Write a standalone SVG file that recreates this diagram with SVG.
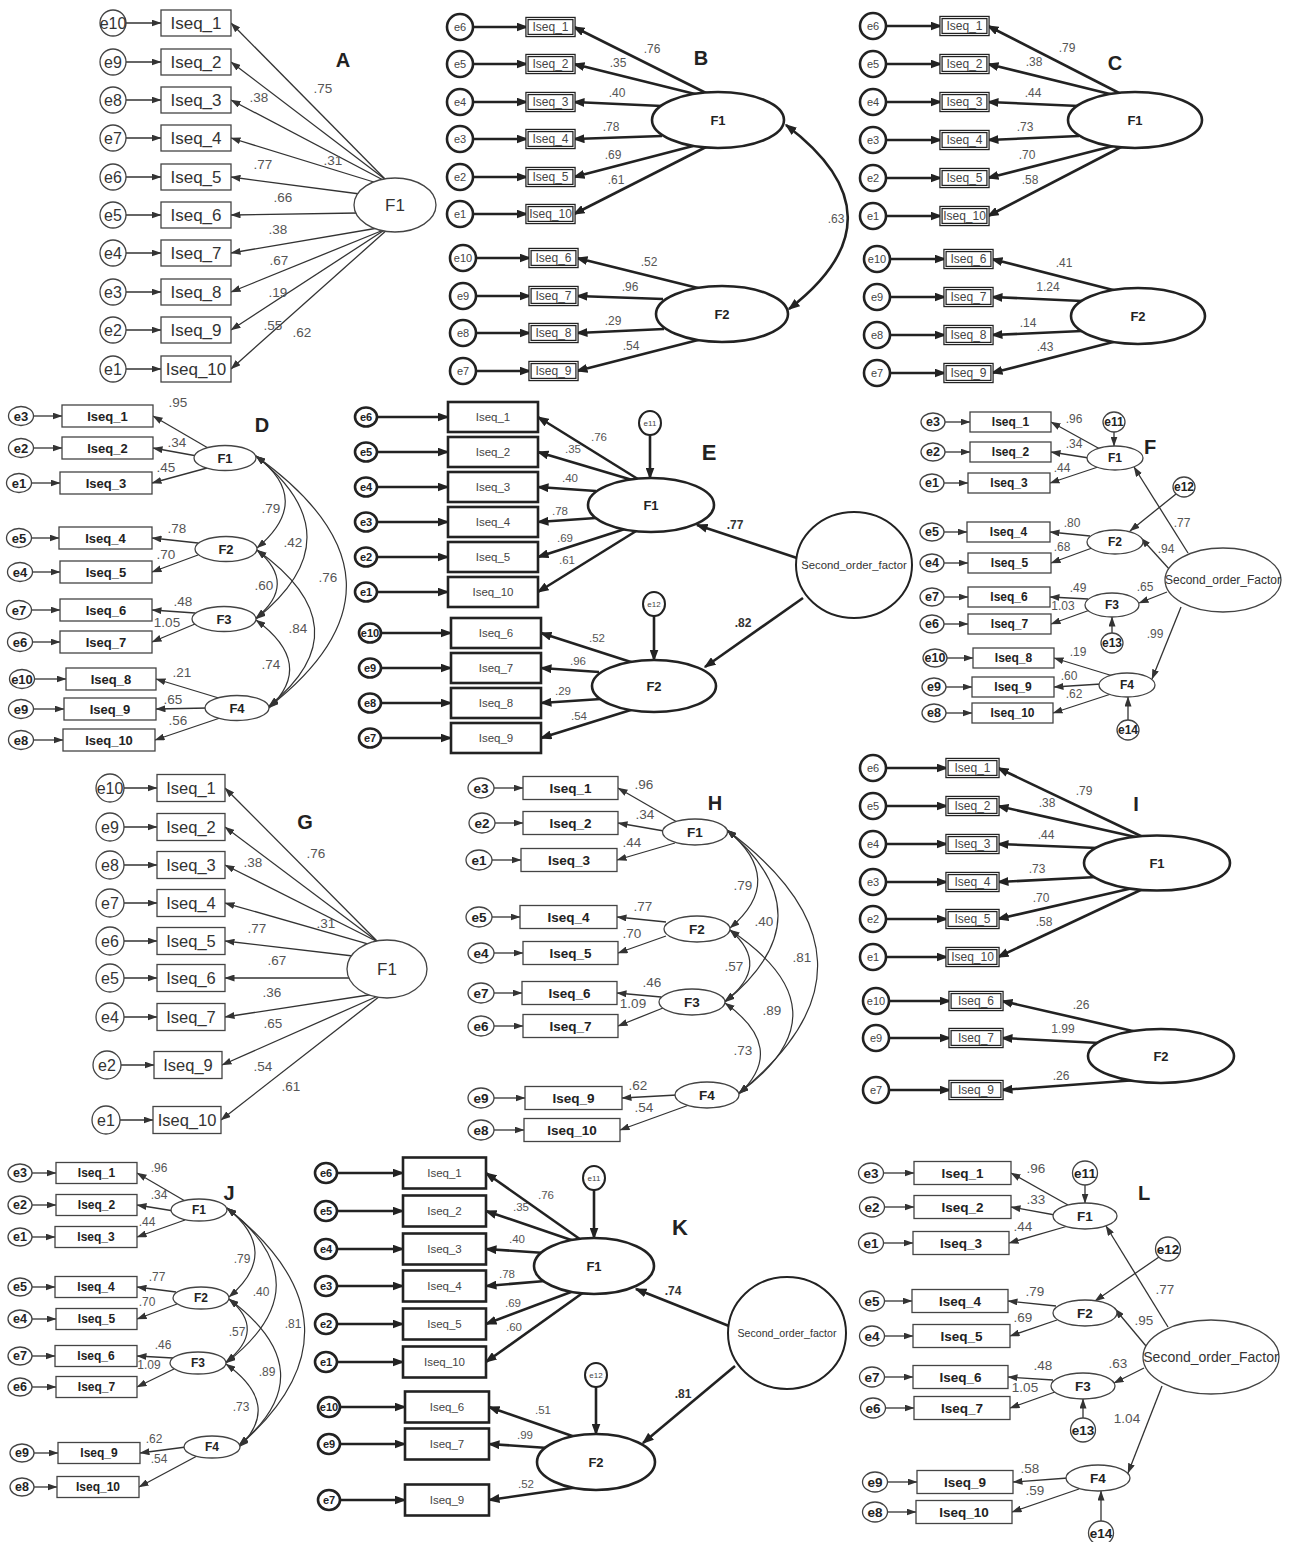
<svg xmlns="http://www.w3.org/2000/svg" width="1290" height="1542" viewBox="0 0 1290 1542">
<defs>
<marker id="m1" viewBox="0 0 10 7" refX="9.5" refY="3.5" markerWidth="10" markerHeight="7" markerUnits="userSpaceOnUse" orient="auto"><path d="M0,0L10,3.5L0,7z" fill="#333"/></marker>
<marker id="m1d" viewBox="0 0 10 7" refX="9.5" refY="3.5" markerWidth="10" markerHeight="7" markerUnits="userSpaceOnUse" orient="auto-start-reverse"><path d="M0,0L10,3.5L0,7z" fill="#333"/></marker>
<marker id="m2" viewBox="0 0 12 9" refX="10.5" refY="4.5" markerWidth="12" markerHeight="9" markerUnits="userSpaceOnUse" orient="auto"><path d="M0,0L12,4.5L0,9z" fill="#222"/></marker>
<marker id="m2d" viewBox="0 0 12 9" refX="10.5" refY="4.5" markerWidth="12" markerHeight="9" markerUnits="userSpaceOnUse" orient="auto-start-reverse"><path d="M0,0L12,4.5L0,9z" fill="#222"/></marker>
</defs>
<style>
.t{font-family:"Liberation Sans",Arial,Helvetica,sans-serif;text-anchor:middle;dominant-baseline:central}
.s17{font-size:17px;fill:#333}.s165{font-size:16.5px;fill:#333}.s16{font-size:16px;fill:#333}
.g135{font-size:13.5px;fill:#555}.g12{font-size:12px;fill:#555}.g115{font-size:11.5px;fill:#555}
.n12{font-size:12px;fill:#444}.n11{font-size:11px;fill:#444}.n115{font-size:11.5px;fill:#444}.n8{font-size:8px;fill:#444}
.so1{font-size:11.3px;fill:#333}.so2{font-size:10.6px;fill:#333}.so3{font-size:12px;fill:#333}.so4{font-size:14px;fill:#333}
.b11{font-size:11px;font-weight:bold;fill:#222}.b12{font-size:12px;font-weight:bold;fill:#222}.b125{font-size:12.5px;font-weight:bold;fill:#222}
.b13{font-size:13px;font-weight:bold;fill:#222}.b135{font-size:13.5px;font-weight:bold;fill:#222}.b14{font-size:14px;font-weight:bold;fill:#222}
.bv{font-size:12px;font-weight:bold;fill:#333}
.L20{font-size:20px;font-weight:bold;fill:#222}.L22{font-size:22px;font-weight:bold;fill:#222}
.k1{fill:#fff;stroke:#444;stroke-width:1.3}
.k2{fill:#fff;stroke:#222;stroke-width:2.6}
.kd{fill:#fff;stroke:#222;stroke-width:3.4}
.kw{fill:none;stroke:#fff;stroke-width:0.9}
.c1{fill:none;stroke:#333;stroke-width:1.3;marker-end:url(#m1)}
.c2{fill:none;stroke:#222;stroke-width:2.6;marker-end:url(#m2)}
.d1{fill:none;stroke:#333;stroke-width:1.2;marker-start:url(#m1d);marker-end:url(#m1d)}
.d2{fill:none;stroke:#222;stroke-width:2.6;marker-start:url(#m2d);marker-end:url(#m2d)}
</style>
<rect width="1290" height="1542" fill="#fff"/>

<g id="connectors">
<!-- Panel A -->
<g id="A-conn" class="c1">
<line x1="126" y1="23" x2="161" y2="23"/><line x1="126" y1="62" x2="161" y2="62"/><line x1="126" y1="100" x2="161" y2="100"/><line x1="126" y1="138" x2="161" y2="138"/><line x1="126" y1="177" x2="161" y2="177"/><line x1="126" y1="215" x2="161" y2="215"/><line x1="126" y1="253" x2="161" y2="253"/><line x1="126" y1="292" x2="161" y2="292"/><line x1="126" y1="330" x2="161" y2="330"/><line x1="126" y1="369" x2="161" y2="369"/>
<line x1="386" y1="180" x2="231" y2="23"/><line x1="386" y1="180" x2="231" y2="62"/><line x1="385" y1="181" x2="231" y2="100"/><line x1="377" y1="183" x2="231" y2="138"/><line x1="360" y1="194" x2="231" y2="177"/><line x1="358" y1="213" x2="231" y2="215"/><line x1="378" y1="228" x2="231" y2="253"/><line x1="386" y1="229" x2="231" y2="292"/><line x1="386" y1="229" x2="231" y2="330"/><line x1="388" y1="229" x2="231" y2="369"/>
</g>
<!-- Panel G -->
<g id="G-conn" class="c1">
<line x1="124" y1="788" x2="157" y2="788"/><line x1="124" y1="827" x2="157" y2="827"/><line x1="124" y1="865" x2="157" y2="865"/><line x1="124" y1="903" x2="157" y2="903"/><line x1="124" y1="941" x2="157" y2="941"/><line x1="124" y1="978" x2="157" y2="978"/><line x1="124" y1="1017" x2="157" y2="1017"/><line x1="121" y1="1065" x2="154" y2="1065"/><line x1="120" y1="1120" x2="153" y2="1120"/>
<line x1="378" y1="942" x2="225" y2="788"/><line x1="378" y1="942" x2="225" y2="827"/><line x1="378" y1="942" x2="225" y2="865"/><line x1="372" y1="945" x2="225" y2="903"/><line x1="353" y1="956" x2="225" y2="941"/><line x1="351" y1="978" x2="225" y2="978"/><line x1="375" y1="994" x2="225" y2="1017"/><line x1="378" y1="996" x2="222" y2="1065"/><line x1="380" y1="996" x2="221" y2="1120"/>
</g>
<!-- Panel B -->
<g id="B-conn" class="c2">
<line x1="473" y1="27" x2="527" y2="27"/><line x1="473" y1="64" x2="527" y2="64"/><line x1="473" y1="102" x2="527" y2="102"/><line x1="473" y1="139" x2="527" y2="139"/><line x1="473" y1="177" x2="527" y2="177"/><line x1="473" y1="214" x2="527" y2="214"/>
<line x1="476" y1="258" x2="530" y2="258"/><line x1="476" y1="296" x2="530" y2="296"/><line x1="476" y1="333" x2="530" y2="333"/><line x1="476" y1="371" x2="530" y2="371"/>
<line x1="708" y1="94" x2="574" y2="27"/><line x1="703" y1="96" x2="574" y2="64"/><line x1="662" y1="106" x2="574" y2="102"/><line x1="662" y1="136" x2="574" y2="139"/><line x1="693" y1="146" x2="574" y2="177"/><line x1="708" y1="146" x2="574" y2="214"/>
<line x1="702" y1="289" x2="577" y2="258"/><line x1="663" y1="299" x2="577" y2="296"/><line x1="664" y1="329" x2="577" y2="333"/><line x1="702" y1="339" x2="577" y2="371"/>
<path class="d2" d="M786,125 Q908,217 789,309"/>
</g>
<!-- Panel C -->
<g id="C-conn" class="c2">
<line x1="886" y1="26" x2="941" y2="26"/><line x1="886" y1="64" x2="941" y2="64"/><line x1="886" y1="102" x2="941" y2="102"/><line x1="886" y1="140" x2="941" y2="140"/><line x1="886" y1="178" x2="941" y2="178"/><line x1="886" y1="216" x2="941" y2="216"/>
<line x1="890" y1="259" x2="945" y2="259"/><line x1="890" y1="297" x2="945" y2="297"/><line x1="890" y1="335" x2="945" y2="335"/><line x1="890" y1="373" x2="945" y2="373"/>
<line x1="1123" y1="95" x2="988" y2="26"/><line x1="1118" y1="96" x2="988" y2="64"/><line x1="1079" y1="106" x2="988" y2="102"/><line x1="1079" y1="136" x2="988" y2="140"/><line x1="1113" y1="146" x2="988" y2="178"/><line x1="1123" y1="146" x2="988" y2="216"/>
<line x1="1117" y1="291" x2="992" y2="259"/><line x1="1082" y1="301" x2="992" y2="297"/><line x1="1082" y1="331" x2="992" y2="335"/><line x1="1117" y1="341" x2="992" y2="373"/>
</g>
<!-- Panel I -->
<g id="I-conn" class="c2">
<line x1="886" y1="768" x2="947" y2="768"/><line x1="886" y1="806" x2="947" y2="806"/><line x1="886" y1="844" x2="947" y2="844"/><line x1="886" y1="882" x2="947" y2="882"/><line x1="886" y1="919" x2="947" y2="919"/><line x1="886" y1="957" x2="947" y2="957"/>
<line x1="889" y1="1001" x2="950" y2="1001"/><line x1="889" y1="1038" x2="950" y2="1038"/><line x1="889" y1="1090" x2="950" y2="1090"/>
<line x1="1145" y1="838" x2="998" y2="768"/><line x1="1140" y1="838" x2="998" y2="806"/><line x1="1097" y1="848" x2="998" y2="844"/><line x1="1097" y1="877" x2="998" y2="882"/><line x1="1133" y1="888" x2="998" y2="919"/><line x1="1145" y1="888" x2="998" y2="957"/>
<line x1="1137" y1="1032" x2="1002" y2="1001"/><line x1="1100" y1="1043" x2="1002" y2="1038"/><line x1="1137" y1="1080" x2="1002" y2="1090"/>
</g>
<!-- Panel D -->
<g id="D-conn" class="c1">
<line x1="33" y1="416" x2="62" y2="416"/><line x1="33" y1="448" x2="62" y2="448"/><line x1="31" y1="483" x2="60" y2="483"/><line x1="31" y1="538" x2="59" y2="538"/><line x1="32" y1="572" x2="60" y2="572"/><line x1="31" y1="610" x2="60" y2="610"/><line x1="32" y1="642" x2="60" y2="642"/><line x1="34" y1="679" x2="66" y2="679"/><line x1="33" y1="709" x2="64" y2="709"/><line x1="33" y1="740" x2="63" y2="740"/>
<line x1="208" y1="448" x2="153" y2="416"/><line x1="197" y1="456" x2="153" y2="448"/><line x1="207" y1="468" x2="152" y2="483"/><line x1="198" y1="543" x2="152" y2="538"/><line x1="198" y1="555" x2="152" y2="572"/><line x1="195" y1="613" x2="152" y2="610"/><line x1="195" y1="624" x2="152" y2="642"/><line x1="222" y1="699" x2="156" y2="679"/><line x1="208" y1="708" x2="156" y2="709"/><line x1="220" y1="718" x2="155" y2="740"/>
<path class="d1" d="M256,456 Q314,500 257,548"/><path class="d1" d="M256,456 Q358,537 256,619"/><path class="d1" d="M256,456 Q430,581 269,707"/><path class="d1" d="M257,550 Q298,584 256,618"/><path class="d1" d="M257,550 Q366,628 269,706"/><path class="d1" d="M256,620 Q316,664 269,708"/>
</g>
<!-- Panel H -->
<g id="H-conn" class="c1">
<line x1="494" y1="788" x2="523" y2="788"/><line x1="495" y1="823" x2="523" y2="823"/><line x1="492" y1="860" x2="521" y2="860"/><line x1="492" y1="917" x2="520" y2="917"/><line x1="494" y1="953" x2="523" y2="953"/><line x1="494" y1="993" x2="522" y2="993"/><line x1="494" y1="1026" x2="523" y2="1026"/><line x1="494" y1="1098" x2="525" y2="1098"/><line x1="494" y1="1130" x2="524" y2="1130"/>
<line x1="677" y1="822" x2="618" y2="788"/><line x1="664" y1="831" x2="618" y2="823"/><line x1="675" y1="843" x2="617" y2="860"/><line x1="666" y1="922" x2="617" y2="917"/><line x1="666" y1="936" x2="618" y2="953"/><line x1="661" y1="997" x2="617" y2="993"/><line x1="663" y1="1008" x2="618" y2="1026"/><line x1="677" y1="1095" x2="622" y2="1098"/><line x1="689" y1="1105" x2="620" y2="1130"/>
<path class="d1" d="M727,830 Q787,880 730,928"/><path class="d1" d="M727,830 Q830,916 725,1002"/><path class="d1" d="M727,830 Q902,961 739,1093"/><path class="d1" d="M730,930 Q772,966 725,1001"/><path class="d1" d="M730,930 Q851,1011 739,1093"/><path class="d1" d="M725,1003 Q788,1048 739,1094"/>
</g>
<!-- Panel J -->
<g id="J-conn" class="c1">
<line x1="32" y1="1173" x2="56" y2="1173"/><line x1="32" y1="1205" x2="56" y2="1205"/><line x1="32" y1="1237" x2="55" y2="1237"/><line x1="32" y1="1287" x2="55" y2="1287"/><line x1="32" y1="1319" x2="56" y2="1319"/><line x1="32" y1="1356" x2="55" y2="1356"/><line x1="32" y1="1387" x2="56" y2="1387"/><line x1="34" y1="1453" x2="58" y2="1453"/><line x1="34" y1="1487" x2="57" y2="1487"/>
<line x1="185" y1="1201" x2="137" y2="1173"/><line x1="174" y1="1211" x2="137" y2="1205"/><line x1="185" y1="1220" x2="137" y2="1237"/><line x1="176" y1="1292" x2="137" y2="1287"/><line x1="177" y1="1304" x2="137" y2="1319"/><line x1="173" y1="1358" x2="137" y2="1356"/><line x1="174" y1="1369" x2="137" y2="1387"/><line x1="186" y1="1447" x2="140" y2="1453"/><line x1="197" y1="1456" x2="139" y2="1487"/>
<path class="d1" d="M227,1208 Q282,1252 229,1297"/><path class="d1" d="M227,1208 Q326,1285 226,1363"/><path class="d1" d="M227,1208 Q376,1326 239,1446"/><path class="d1" d="M229,1299 Q267,1330 226,1362"/><path class="d1" d="M229,1299 Q327,1372 239,1445"/><path class="d1" d="M226,1364 Q283,1405 239,1447"/>
</g>
<!-- Panel E -->
<g id="E-conn" class="c2">
<line x1="377" y1="417" x2="448" y2="417"/><line x1="377" y1="452" x2="448" y2="452"/><line x1="377" y1="487" x2="448" y2="487"/><line x1="377" y1="522" x2="448" y2="522"/><line x1="377" y1="557" x2="448" y2="557"/><line x1="377" y1="592" x2="448" y2="592"/>
<line x1="381" y1="633" x2="451" y2="633"/><line x1="381" y1="668" x2="451" y2="668"/><line x1="381" y1="703" x2="451" y2="703"/><line x1="381" y1="738" x2="451" y2="738"/>
<line x1="641" y1="481" x2="538" y2="417"/><line x1="639" y1="482" x2="538" y2="452"/><line x1="596" y1="491" x2="538" y2="487"/><line x1="596" y1="518" x2="538" y2="522"/><line x1="628" y1="528" x2="538" y2="557"/><line x1="641" y1="528" x2="538" y2="592"/>
<line x1="634" y1="663" x2="541" y2="633"/><line x1="599" y1="672" x2="541" y2="668"/><line x1="601" y1="699" x2="541" y2="703"/><line x1="634" y1="709" x2="541" y2="738"/>
<line x1="650" y1="435" x2="650" y2="478"/><line x1="654" y1="616" x2="654" y2="660"/>
<line x1="797" y1="558" x2="697" y2="525"/><line x1="803" y1="598" x2="705" y2="667"/>
</g>
<!-- Panel K -->
<g id="K-conn" class="c2">
<line x1="337" y1="1173" x2="403" y2="1173"/><line x1="337" y1="1211" x2="403" y2="1211"/><line x1="337" y1="1249" x2="403" y2="1249"/><line x1="337" y1="1286" x2="403" y2="1286"/><line x1="337" y1="1324" x2="403" y2="1324"/><line x1="337" y1="1362" x2="403" y2="1362"/>
<line x1="340" y1="1407" x2="405" y2="1407"/><line x1="340" y1="1444" x2="405" y2="1444"/><line x1="340" y1="1500" x2="405" y2="1500"/>
<line x1="584" y1="1242" x2="486" y2="1173"/><line x1="580" y1="1243" x2="486" y2="1211"/><line x1="545" y1="1253" x2="486" y2="1249"/><line x1="545" y1="1281" x2="486" y2="1286"/><line x1="571" y1="1292" x2="486" y2="1324"/><line x1="584" y1="1292" x2="486" y2="1362"/>
<line x1="578" y1="1438" x2="489" y2="1407"/><line x1="548" y1="1448" x2="489" y2="1444"/><line x1="579" y1="1487" x2="489" y2="1500"/>
<line x1="594" y1="1190" x2="594" y2="1238"/><line x1="596" y1="1387" x2="596" y2="1434"/>
<line x1="729" y1="1326" x2="636" y2="1289"/><line x1="735" y1="1366" x2="643" y2="1443"/>
</g>
<!-- Panel F -->
<g id="F-conn" class="c1">
<line x1="945" y1="422" x2="970" y2="422"/><line x1="945" y1="452" x2="970" y2="452"/><line x1="944" y1="483" x2="968" y2="483"/><line x1="944" y1="532" x2="967" y2="532"/><line x1="944" y1="563" x2="968" y2="563"/><line x1="944" y1="597" x2="968" y2="597"/><line x1="944" y1="624" x2="968" y2="624"/><line x1="947" y1="658" x2="973" y2="658"/><line x1="946" y1="687" x2="972" y2="687"/><line x1="946" y1="713" x2="972" y2="713"/>
<line x1="1100" y1="449" x2="1051" y2="422"/><line x1="1089" y1="458" x2="1051" y2="452"/><line x1="1098" y1="467" x2="1050" y2="483"/><line x1="1090" y1="536" x2="1050" y2="532"/><line x1="1092" y1="548" x2="1051" y2="563"/><line x1="1088" y1="599" x2="1050" y2="597"/><line x1="1090" y1="610" x2="1051" y2="624"/><line x1="1113" y1="676" x2="1054" y2="658"/><line x1="1101" y1="684" x2="1054" y2="687"/><line x1="1111" y1="694" x2="1053" y2="713"/>
<line x1="1114" y1="432" x2="1114" y2="446"/><line x1="1176" y1="494" x2="1130" y2="531"/><line x1="1112" y1="633" x2="1112" y2="617"/><line x1="1128" y1="720" x2="1128" y2="697"/>
<line x1="1188" y1="553" x2="1134" y2="467"/><line x1="1170" y1="570" x2="1141" y2="538"/><line x1="1167" y1="592" x2="1139" y2="603"/><line x1="1181" y1="607" x2="1152" y2="679"/>
</g>
<!-- Panel L -->
<g id="L-conn" class="c1">
<line x1="883" y1="1173" x2="914" y2="1173"/><line x1="884" y1="1207" x2="914" y2="1207"/><line x1="883" y1="1243" x2="913" y2="1243"/><line x1="884" y1="1301" x2="912" y2="1301"/><line x1="884" y1="1336" x2="913" y2="1336"/><line x1="884" y1="1377" x2="913" y2="1377"/><line x1="885" y1="1408" x2="914" y2="1408"/><line x1="887" y1="1482" x2="917" y2="1482"/><line x1="887" y1="1512" x2="916" y2="1512"/>
<line x1="1068" y1="1205" x2="1011" y2="1173"/><line x1="1055" y1="1215" x2="1011" y2="1207"/><line x1="1068" y1="1226" x2="1009" y2="1243"/><line x1="1056" y1="1306" x2="1008" y2="1301"/><line x1="1057" y1="1320" x2="1010" y2="1336"/><line x1="1053" y1="1380" x2="1008" y2="1377"/><line x1="1055" y1="1392" x2="1010" y2="1408"/><line x1="1068" y1="1478" x2="1013" y2="1482"/><line x1="1079" y1="1489" x2="1012" y2="1512"/>
<line x1="1085" y1="1185" x2="1085" y2="1203"/><line x1="1159" y1="1257" x2="1095" y2="1301"/><line x1="1083" y1="1418" x2="1083" y2="1399"/><line x1="1101" y1="1521" x2="1101" y2="1491"/>
<line x1="1168" y1="1327" x2="1106" y2="1226"/><line x1="1146" y1="1346" x2="1115" y2="1309"/><line x1="1144" y1="1368" x2="1114" y2="1383"/><line x1="1162" y1="1386" x2="1128" y2="1473"/>
</g>
</g>

<g id="nodes">
<!-- Panel A -->
<g id="A-nodes">
<g id="A-e10"><circle class="k1" cx="113" cy="23" r="13"/><text class="t s16" x="113" y="23">e10</text></g>
<g id="A-e9"><circle class="k1" cx="113" cy="62" r="13"/><text class="t s16" x="113" y="62">e9</text></g>
<g id="A-e8"><circle class="k1" cx="113" cy="100" r="13"/><text class="t s16" x="113" y="100">e8</text></g>
<g id="A-e7"><circle class="k1" cx="113" cy="138" r="13"/><text class="t s16" x="113" y="138">e7</text></g>
<g id="A-e6"><circle class="k1" cx="113" cy="177" r="13"/><text class="t s16" x="113" y="177">e6</text></g>
<g id="A-e5"><circle class="k1" cx="113" cy="215" r="13"/><text class="t s16" x="113" y="215">e5</text></g>
<g id="A-e4"><circle class="k1" cx="113" cy="253" r="13"/><text class="t s16" x="113" y="253">e4</text></g>
<g id="A-e3"><circle class="k1" cx="113" cy="292" r="13"/><text class="t s16" x="113" y="292">e3</text></g>
<g id="A-e2"><circle class="k1" cx="113" cy="330" r="13"/><text class="t s16" x="113" y="330">e2</text></g>
<g id="A-e1"><circle class="k1" cx="113" cy="369" r="13"/><text class="t s16" x="113" y="369">e1</text></g>
<g id="A-Iseq_1"><rect class="k1" x="161" y="10" width="70" height="26"/><text class="t s17" x="196" y="23">Iseq_1</text></g>
<g id="A-Iseq_2"><rect class="k1" x="161" y="49" width="70" height="26"/><text class="t s17" x="196" y="62">Iseq_2</text></g>
<g id="A-Iseq_3"><rect class="k1" x="161" y="87" width="70" height="26"/><text class="t s17" x="196" y="100">Iseq_3</text></g>
<g id="A-Iseq_4"><rect class="k1" x="161" y="125" width="70" height="26"/><text class="t s17" x="196" y="138">Iseq_4</text></g>
<g id="A-Iseq_5"><rect class="k1" x="161" y="164" width="70" height="26"/><text class="t s17" x="196" y="177">Iseq_5</text></g>
<g id="A-Iseq_6"><rect class="k1" x="161" y="202" width="70" height="26"/><text class="t s17" x="196" y="215">Iseq_6</text></g>
<g id="A-Iseq_7"><rect class="k1" x="161" y="240" width="70" height="26"/><text class="t s17" x="196" y="253">Iseq_7</text></g>
<g id="A-Iseq_8"><rect class="k1" x="161" y="279" width="70" height="26"/><text class="t s17" x="196" y="292">Iseq_8</text></g>
<g id="A-Iseq_9"><rect class="k1" x="161" y="317" width="70" height="26"/><text class="t s17" x="196" y="330">Iseq_9</text></g>
<g id="A-Iseq_10"><rect class="k1" x="161" y="356" width="70" height="26"/><text class="t s17" x="196" y="369">Iseq_10</text></g>
<g id="A-F1"><ellipse class="k1" cx="395" cy="205" rx="41" ry="27"/><text class="t s17" x="395" y="205">F1</text></g>
</g>
<!-- Panel G -->
<g id="G-nodes">
<g id="G-e10"><circle class="k1" cx="110" cy="788" r="14"/><text class="t s16" x="110" y="788">e10</text></g>
<g id="G-e9"><circle class="k1" cx="110" cy="827" r="14"/><text class="t s16" x="110" y="827">e9</text></g>
<g id="G-e8"><circle class="k1" cx="110" cy="865" r="14"/><text class="t s16" x="110" y="865">e8</text></g>
<g id="G-e7"><circle class="k1" cx="110" cy="903" r="14"/><text class="t s16" x="110" y="903">e7</text></g>
<g id="G-e6"><circle class="k1" cx="110" cy="941" r="14"/><text class="t s16" x="110" y="941">e6</text></g>
<g id="G-e5"><circle class="k1" cx="110" cy="978" r="14"/><text class="t s16" x="110" y="978">e5</text></g>
<g id="G-e4"><circle class="k1" cx="110" cy="1017" r="14"/><text class="t s16" x="110" y="1017">e4</text></g>
<g id="G-e2"><circle class="k1" cx="107" cy="1065" r="14"/><text class="t s16" x="107" y="1065">e2</text></g>
<g id="G-e1"><circle class="k1" cx="106" cy="1120" r="14"/><text class="t s16" x="106" y="1120">e1</text></g>
<g id="G-Iseq_1"><rect class="k1" x="157" y="774.5" width="68" height="27"/><text class="t s165" x="191" y="788">Iseq_1</text></g>
<g id="G-Iseq_2"><rect class="k1" x="157" y="813.5" width="68" height="27"/><text class="t s165" x="191" y="827">Iseq_2</text></g>
<g id="G-Iseq_3"><rect class="k1" x="157" y="851.5" width="68" height="27"/><text class="t s165" x="191" y="865">Iseq_3</text></g>
<g id="G-Iseq_4"><rect class="k1" x="157" y="889.5" width="68" height="27"/><text class="t s165" x="191" y="903">Iseq_4</text></g>
<g id="G-Iseq_5"><rect class="k1" x="157" y="927.5" width="68" height="27"/><text class="t s165" x="191" y="941">Iseq_5</text></g>
<g id="G-Iseq_6"><rect class="k1" x="157" y="964.5" width="68" height="27"/><text class="t s165" x="191" y="978">Iseq_6</text></g>
<g id="G-Iseq_7"><rect class="k1" x="157" y="1003.5" width="68" height="27"/><text class="t s165" x="191" y="1017">Iseq_7</text></g>
<g id="G-Iseq_9"><rect class="k1" x="154" y="1051.5" width="68" height="27"/><text class="t s165" x="188" y="1065">Iseq_9</text></g>
<g id="G-Iseq_10"><rect class="k1" x="153" y="1106.5" width="68" height="27"/><text class="t s165" x="187" y="1120">Iseq_10</text></g>
<g id="G-F1"><ellipse class="k1" cx="387" cy="969" rx="40" ry="29"/><text class="t s17" x="387" y="969">F1</text></g>
</g>
<!-- Panel B -->
<g id="B-nodes">
<g id="B-e6"><circle class="k2" cx="460" cy="27" r="13"/><text class="t n11" x="460" y="27">e6</text></g>
<g id="B-e5"><circle class="k2" cx="460" cy="64" r="13"/><text class="t n11" x="460" y="64">e5</text></g>
<g id="B-e4"><circle class="k2" cx="460" cy="102" r="13"/><text class="t n11" x="460" y="102">e4</text></g>
<g id="B-e3"><circle class="k2" cx="460" cy="139" r="13"/><text class="t n11" x="460" y="139">e3</text></g>
<g id="B-e2"><circle class="k2" cx="460" cy="177" r="13"/><text class="t n11" x="460" y="177">e2</text></g>
<g id="B-e1"><circle class="k2" cx="460" cy="214" r="13"/><text class="t n11" x="460" y="214">e1</text></g>
<g id="B-e10"><circle class="k2" cx="463" cy="258" r="13"/><text class="t n11" x="463" y="258">e10</text></g>
<g id="B-e9"><circle class="k2" cx="463" cy="296" r="13"/><text class="t n11" x="463" y="296">e9</text></g>
<g id="B-e8"><circle class="k2" cx="463" cy="333" r="13"/><text class="t n11" x="463" y="333">e8</text></g>
<g id="B-e7"><circle class="k2" cx="463" cy="371" r="13"/><text class="t n11" x="463" y="371">e7</text></g>
<g id="B-Iseq_1"><rect class="kd" x="527" y="18.5" width="47" height="17"/><rect class="kw" x="527" y="18.5" width="47" height="17"/><text class="t n12" x="550.5" y="27">Iseq_1</text></g>
<g id="B-Iseq_2"><rect class="kd" x="527" y="55.5" width="47" height="17"/><rect class="kw" x="527" y="55.5" width="47" height="17"/><text class="t n12" x="550.5" y="64">Iseq_2</text></g>
<g id="B-Iseq_3"><rect class="kd" x="527" y="93.5" width="47" height="17"/><rect class="kw" x="527" y="93.5" width="47" height="17"/><text class="t n12" x="550.5" y="102">Iseq_3</text></g>
<g id="B-Iseq_4"><rect class="kd" x="527" y="130.5" width="47" height="17"/><rect class="kw" x="527" y="130.5" width="47" height="17"/><text class="t n12" x="550.5" y="139">Iseq_4</text></g>
<g id="B-Iseq_5"><rect class="kd" x="527" y="168.5" width="47" height="17"/><rect class="kw" x="527" y="168.5" width="47" height="17"/><text class="t n12" x="550.5" y="177">Iseq_5</text></g>
<g id="B-Iseq_10"><rect class="kd" x="527" y="205.5" width="47" height="17"/><rect class="kw" x="527" y="205.5" width="47" height="17"/><text class="t n12" x="550.5" y="214">Iseq_10</text></g>
<g id="B-Iseq_6"><rect class="kd" x="530" y="249.5" width="47" height="17"/><rect class="kw" x="530" y="249.5" width="47" height="17"/><text class="t n12" x="553.5" y="258">Iseq_6</text></g>
<g id="B-Iseq_7"><rect class="kd" x="530" y="287.5" width="47" height="17"/><rect class="kw" x="530" y="287.5" width="47" height="17"/><text class="t n12" x="553.5" y="296">Iseq_7</text></g>
<g id="B-Iseq_8"><rect class="kd" x="530" y="324.5" width="47" height="17"/><rect class="kw" x="530" y="324.5" width="47" height="17"/><text class="t n12" x="553.5" y="333">Iseq_8</text></g>
<g id="B-Iseq_9"><rect class="kd" x="530" y="362.5" width="47" height="17"/><rect class="kw" x="530" y="362.5" width="47" height="17"/><text class="t n12" x="553.5" y="371">Iseq_9</text></g>
<g id="B-F1"><ellipse class="k2" cx="718" cy="120" rx="66" ry="28"/><text class="t b13" x="718" y="120">F1</text></g>
<g id="B-F2"><ellipse class="k2" cx="722" cy="314" rx="66" ry="28"/><text class="t b13" x="722" y="314">F2</text></g>
</g>
<!-- Panel C -->
<g id="C-nodes">
<g id="C-e6"><circle class="k2" cx="873" cy="26" r="13"/><text class="t n11" x="873" y="26">e6</text></g>
<g id="C-e5"><circle class="k2" cx="873" cy="64" r="13"/><text class="t n11" x="873" y="64">e5</text></g>
<g id="C-e4"><circle class="k2" cx="873" cy="102" r="13"/><text class="t n11" x="873" y="102">e4</text></g>
<g id="C-e3"><circle class="k2" cx="873" cy="140" r="13"/><text class="t n11" x="873" y="140">e3</text></g>
<g id="C-e2"><circle class="k2" cx="873" cy="178" r="13"/><text class="t n11" x="873" y="178">e2</text></g>
<g id="C-e1"><circle class="k2" cx="873" cy="216" r="13"/><text class="t n11" x="873" y="216">e1</text></g>
<g id="C-e10"><circle class="k2" cx="877" cy="259" r="13"/><text class="t n11" x="877" y="259">e10</text></g>
<g id="C-e9"><circle class="k2" cx="877" cy="297" r="13"/><text class="t n11" x="877" y="297">e9</text></g>
<g id="C-e8"><circle class="k2" cx="877" cy="335" r="13"/><text class="t n11" x="877" y="335">e8</text></g>
<g id="C-e7"><circle class="k2" cx="877" cy="373" r="13"/><text class="t n11" x="877" y="373">e7</text></g>
<g id="C-Iseq_1"><rect class="kd" x="941" y="17.5" width="47" height="17"/><rect class="kw" x="941" y="17.5" width="47" height="17"/><text class="t n12" x="964.5" y="26">Iseq_1</text></g>
<g id="C-Iseq_2"><rect class="kd" x="941" y="55.5" width="47" height="17"/><rect class="kw" x="941" y="55.5" width="47" height="17"/><text class="t n12" x="964.5" y="64">Iseq_2</text></g>
<g id="C-Iseq_3"><rect class="kd" x="941" y="93.5" width="47" height="17"/><rect class="kw" x="941" y="93.5" width="47" height="17"/><text class="t n12" x="964.5" y="102">Iseq_3</text></g>
<g id="C-Iseq_4"><rect class="kd" x="941" y="131.5" width="47" height="17"/><rect class="kw" x="941" y="131.5" width="47" height="17"/><text class="t n12" x="964.5" y="140">Iseq_4</text></g>
<g id="C-Iseq_5"><rect class="kd" x="941" y="169.5" width="47" height="17"/><rect class="kw" x="941" y="169.5" width="47" height="17"/><text class="t n12" x="964.5" y="178">Iseq_5</text></g>
<g id="C-Iseq_10"><rect class="kd" x="941" y="207.5" width="47" height="17"/><rect class="kw" x="941" y="207.5" width="47" height="17"/><text class="t n12" x="964.5" y="216">Iseq_10</text></g>
<g id="C-Iseq_6"><rect class="kd" x="945" y="250.5" width="47" height="17"/><rect class="kw" x="945" y="250.5" width="47" height="17"/><text class="t n12" x="968.5" y="259">Iseq_6</text></g>
<g id="C-Iseq_7"><rect class="kd" x="945" y="288.5" width="47" height="17"/><rect class="kw" x="945" y="288.5" width="47" height="17"/><text class="t n12" x="968.5" y="297">Iseq_7</text></g>
<g id="C-Iseq_8"><rect class="kd" x="945" y="326.5" width="47" height="17"/><rect class="kw" x="945" y="326.5" width="47" height="17"/><text class="t n12" x="968.5" y="335">Iseq_8</text></g>
<g id="C-Iseq_9"><rect class="kd" x="945" y="364.5" width="47" height="17"/><rect class="kw" x="945" y="364.5" width="47" height="17"/><text class="t n12" x="968.5" y="373">Iseq_9</text></g>
<g id="C-F1"><ellipse class="k2" cx="1135" cy="120" rx="67" ry="28"/><text class="t b13" x="1135" y="120">F1</text></g>
<g id="C-F2"><ellipse class="k2" cx="1138" cy="316" rx="67" ry="28"/><text class="t b13" x="1138" y="316">F2</text></g>
</g>
<!-- Panel I -->
<g id="I-nodes">
<g id="I-e6"><circle class="k2" cx="873" cy="768" r="13"/><text class="t n11" x="873" y="768">e6</text></g>
<g id="I-e5"><circle class="k2" cx="873" cy="806" r="13"/><text class="t n11" x="873" y="806">e5</text></g>
<g id="I-e4"><circle class="k2" cx="873" cy="844" r="13"/><text class="t n11" x="873" y="844">e4</text></g>
<g id="I-e3"><circle class="k2" cx="873" cy="882" r="13"/><text class="t n11" x="873" y="882">e3</text></g>
<g id="I-e2"><circle class="k2" cx="873" cy="919" r="13"/><text class="t n11" x="873" y="919">e2</text></g>
<g id="I-e1"><circle class="k2" cx="873" cy="957" r="13"/><text class="t n11" x="873" y="957">e1</text></g>
<g id="I-e10"><circle class="k2" cx="876" cy="1001" r="13"/><text class="t n11" x="876" y="1001">e10</text></g>
<g id="I-e9"><circle class="k2" cx="876" cy="1038" r="13"/><text class="t n11" x="876" y="1038">e9</text></g>
<g id="I-e7"><circle class="k2" cx="876" cy="1090" r="13"/><text class="t n11" x="876" y="1090">e7</text></g>
<g id="I-Iseq_1"><rect class="kd" x="947" y="759.5" width="51" height="17"/><rect class="kw" x="947" y="759.5" width="51" height="17"/><text class="t n12" x="972.5" y="768">Iseq_1</text></g>
<g id="I-Iseq_2"><rect class="kd" x="947" y="797.5" width="51" height="17"/><rect class="kw" x="947" y="797.5" width="51" height="17"/><text class="t n12" x="972.5" y="806">Iseq_2</text></g>
<g id="I-Iseq_3"><rect class="kd" x="947" y="835.5" width="51" height="17"/><rect class="kw" x="947" y="835.5" width="51" height="17"/><text class="t n12" x="972.5" y="844">Iseq_3</text></g>
<g id="I-Iseq_4"><rect class="kd" x="947" y="873.5" width="51" height="17"/><rect class="kw" x="947" y="873.5" width="51" height="17"/><text class="t n12" x="972.5" y="882">Iseq_4</text></g>
<g id="I-Iseq_5"><rect class="kd" x="947" y="910.5" width="51" height="17"/><rect class="kw" x="947" y="910.5" width="51" height="17"/><text class="t n12" x="972.5" y="919">Iseq_5</text></g>
<g id="I-Iseq_10"><rect class="kd" x="947" y="948.5" width="51" height="17"/><rect class="kw" x="947" y="948.5" width="51" height="17"/><text class="t n12" x="972.5" y="957">Iseq_10</text></g>
<g id="I-Iseq_6"><rect class="kd" x="950" y="992.5" width="52" height="17"/><rect class="kw" x="950" y="992.5" width="52" height="17"/><text class="t n12" x="976" y="1001">Iseq_6</text></g>
<g id="I-Iseq_7"><rect class="kd" x="950" y="1029.5" width="52" height="17"/><rect class="kw" x="950" y="1029.5" width="52" height="17"/><text class="t n12" x="976" y="1038">Iseq_7</text></g>
<g id="I-Iseq_9"><rect class="kd" x="950" y="1081.5" width="52" height="17"/><rect class="kw" x="950" y="1081.5" width="52" height="17"/><text class="t n12" x="976" y="1090">Iseq_9</text></g>
<g id="I-F1"><ellipse class="k2" cx="1157" cy="863" rx="73" ry="27.5"/><text class="t b13" x="1157" y="863">F1</text></g>
<g id="I-F2"><ellipse class="k2" cx="1161" cy="1056" rx="73" ry="27"/><text class="t b13" x="1161" y="1056">F2</text></g>
</g>
<!-- Panel D -->
<g id="D-nodes">
<g id="D-e3"><ellipse class="k1" cx="21" cy="416" rx="12.5" ry="9.5"/><text class="t b13" x="21" y="416">e3</text></g>
<g id="D-e2"><ellipse class="k1" cx="21" cy="448" rx="12.5" ry="9.5"/><text class="t b13" x="21" y="448">e2</text></g>
<g id="D-e1"><ellipse class="k1" cx="19" cy="483" rx="12.5" ry="9.5"/><text class="t b13" x="19" y="483">e1</text></g>
<g id="D-e5"><ellipse class="k1" cx="19" cy="538" rx="12.5" ry="9.5"/><text class="t b13" x="19" y="538">e5</text></g>
<g id="D-e4"><ellipse class="k1" cx="20" cy="572" rx="12.5" ry="9.5"/><text class="t b13" x="20" y="572">e4</text></g>
<g id="D-e7"><ellipse class="k1" cx="19" cy="610" rx="12.5" ry="9.5"/><text class="t b13" x="19" y="610">e7</text></g>
<g id="D-e6"><ellipse class="k1" cx="20" cy="642" rx="12.5" ry="9.5"/><text class="t b13" x="20" y="642">e6</text></g>
<g id="D-e10"><ellipse class="k1" cx="22" cy="679" rx="12.5" ry="9.5"/><text class="t b13" x="22" y="679">e10</text></g>
<g id="D-e9"><ellipse class="k1" cx="21" cy="709" rx="12.5" ry="9.5"/><text class="t b13" x="21" y="709">e9</text></g>
<g id="D-e8"><ellipse class="k1" cx="21" cy="740" rx="12.5" ry="9.5"/><text class="t b13" x="21" y="740">e8</text></g>
<g id="D-Iseq_1"><rect class="k1" x="62" y="405" width="91" height="22"/><text class="t b13" x="107.5" y="416">Iseq_1</text></g>
<g id="D-Iseq_2"><rect class="k1" x="62" y="437" width="91" height="22"/><text class="t b13" x="107.5" y="448">Iseq_2</text></g>
<g id="D-Iseq_3"><rect class="k1" x="60" y="472" width="92" height="22"/><text class="t b13" x="106" y="483">Iseq_3</text></g>
<g id="D-Iseq_4"><rect class="k1" x="59" y="527" width="93" height="22"/><text class="t b13" x="105.5" y="538">Iseq_4</text></g>
<g id="D-Iseq_5"><rect class="k1" x="60" y="561" width="92" height="22"/><text class="t b13" x="106" y="572">Iseq_5</text></g>
<g id="D-Iseq_6"><rect class="k1" x="60" y="599" width="92" height="22"/><text class="t b13" x="106" y="610">Iseq_6</text></g>
<g id="D-Iseq_7"><rect class="k1" x="60" y="631" width="92" height="22"/><text class="t b13" x="106" y="642">Iseq_7</text></g>
<g id="D-Iseq_8"><rect class="k1" x="66" y="668" width="90" height="22"/><text class="t b13" x="111" y="679">Iseq_8</text></g>
<g id="D-Iseq_9"><rect class="k1" x="64" y="698" width="92" height="22"/><text class="t b13" x="110" y="709">Iseq_9</text></g>
<g id="D-Iseq_10"><rect class="k1" x="63" y="729" width="92" height="22"/><text class="t b13" x="109" y="740">Iseq_10</text></g>
<g id="D-F1"><ellipse class="k1" cx="225" cy="458" rx="31" ry="12.5"/><text class="t b13" x="225" y="458">F1</text></g>
<g id="D-F2"><ellipse class="k1" cx="226" cy="549" rx="31" ry="12.5"/><text class="t b13" x="226" y="549">F2</text></g>
<g id="D-F3"><ellipse class="k1" cx="224" cy="619" rx="32" ry="12.5"/><text class="t b13" x="224" y="619">F3</text></g>
<g id="D-F4"><ellipse class="k1" cx="237" cy="708" rx="32" ry="12.5"/><text class="t b13" x="237" y="708">F4</text></g>
</g>
<!-- Panel H -->
<g id="H-nodes">
<g id="H-e3"><ellipse class="k1" cx="481" cy="788" rx="13" ry="10"/><text class="t b135" x="481" y="788">e3</text></g>
<g id="H-e2"><ellipse class="k1" cx="482" cy="823" rx="13" ry="10"/><text class="t b135" x="482" y="823">e2</text></g>
<g id="H-e1"><ellipse class="k1" cx="479" cy="860" rx="13" ry="10"/><text class="t b135" x="479" y="860">e1</text></g>
<g id="H-e5"><ellipse class="k1" cx="479" cy="917" rx="13" ry="10"/><text class="t b135" x="479" y="917">e5</text></g>
<g id="H-e4"><ellipse class="k1" cx="481" cy="953" rx="13" ry="10"/><text class="t b135" x="481" y="953">e4</text></g>
<g id="H-e7"><ellipse class="k1" cx="481" cy="993" rx="13" ry="10"/><text class="t b135" x="481" y="993">e7</text></g>
<g id="H-e6"><ellipse class="k1" cx="481" cy="1026" rx="13" ry="10"/><text class="t b135" x="481" y="1026">e6</text></g>
<g id="H-e9"><ellipse class="k1" cx="481" cy="1098" rx="13" ry="10"/><text class="t b135" x="481" y="1098">e9</text></g>
<g id="H-e8"><ellipse class="k1" cx="481" cy="1130" rx="13" ry="10"/><text class="t b135" x="481" y="1130">e8</text></g>
<g id="H-Iseq_1"><rect class="k1" x="523" y="776.5" width="95" height="23"/><text class="t b135" x="570.5" y="788">Iseq_1</text></g>
<g id="H-Iseq_2"><rect class="k1" x="523" y="811.5" width="95" height="23"/><text class="t b135" x="570.5" y="823">Iseq_2</text></g>
<g id="H-Iseq_3"><rect class="k1" x="521" y="848.5" width="96" height="23"/><text class="t b135" x="569" y="860">Iseq_3</text></g>
<g id="H-Iseq_4"><rect class="k1" x="520" y="905.5" width="97" height="23"/><text class="t b135" x="568.5" y="917">Iseq_4</text></g>
<g id="H-Iseq_5"><rect class="k1" x="523" y="941.5" width="95" height="23"/><text class="t b135" x="570.5" y="953">Iseq_5</text></g>
<g id="H-Iseq_6"><rect class="k1" x="522" y="981.5" width="95" height="23"/><text class="t b135" x="569.5" y="993">Iseq_6</text></g>
<g id="H-Iseq_7"><rect class="k1" x="523" y="1014.5" width="95" height="23"/><text class="t b135" x="570.5" y="1026">Iseq_7</text></g>
<g id="H-Iseq_9"><rect class="k1" x="525" y="1086.5" width="97" height="23"/><text class="t b135" x="573.5" y="1098">Iseq_9</text></g>
<g id="H-Iseq_10"><rect class="k1" x="524" y="1118.5" width="96" height="23"/><text class="t b135" x="572" y="1130">Iseq_10</text></g>
<g id="H-F1"><ellipse class="k1" cx="695" cy="832" rx="32.5" ry="13"/><text class="t b135" x="695" y="832">F1</text></g>
<g id="H-F2"><ellipse class="k1" cx="697" cy="929" rx="33" ry="13"/><text class="t b135" x="697" y="929">F2</text></g>
<g id="H-F3"><ellipse class="k1" cx="692" cy="1002" rx="33" ry="13"/><text class="t b135" x="692" y="1002">F3</text></g>
<g id="H-F4"><ellipse class="k1" cx="707" cy="1095" rx="32" ry="13"/><text class="t b135" x="707" y="1095">F4</text></g>
</g>
<!-- Panel J -->
<g id="J-nodes">
<g id="J-e3"><ellipse class="k1" cx="20" cy="1173" rx="12" ry="9"/><text class="t b125" x="20" y="1173">e3</text></g>
<g id="J-e2"><ellipse class="k1" cx="20" cy="1205" rx="12" ry="9"/><text class="t b125" x="20" y="1205">e2</text></g>
<g id="J-e1"><ellipse class="k1" cx="20" cy="1237" rx="12" ry="9"/><text class="t b125" x="20" y="1237">e1</text></g>
<g id="J-e5"><ellipse class="k1" cx="20" cy="1287" rx="12" ry="9"/><text class="t b125" x="20" y="1287">e5</text></g>
<g id="J-e4"><ellipse class="k1" cx="20" cy="1319" rx="12" ry="9"/><text class="t b125" x="20" y="1319">e4</text></g>
<g id="J-e7"><ellipse class="k1" cx="20" cy="1356" rx="12" ry="9"/><text class="t b125" x="20" y="1356">e7</text></g>
<g id="J-e6"><ellipse class="k1" cx="20" cy="1387" rx="12" ry="9"/><text class="t b125" x="20" y="1387">e6</text></g>
<g id="J-e9"><ellipse class="k1" cx="22" cy="1453" rx="12" ry="9"/><text class="t b125" x="22" y="1453">e9</text></g>
<g id="J-e8"><ellipse class="k1" cx="22" cy="1487" rx="12" ry="9"/><text class="t b125" x="22" y="1487">e8</text></g>
<g id="J-Iseq_1"><rect class="k1" x="56" y="1162.5" width="81" height="21"/><text class="t b12" x="96.5" y="1173">Iseq_1</text></g>
<g id="J-Iseq_2"><rect class="k1" x="56" y="1194.5" width="81" height="21"/><text class="t b12" x="96.5" y="1205">Iseq_2</text></g>
<g id="J-Iseq_3"><rect class="k1" x="55" y="1226.5" width="82" height="21"/><text class="t b12" x="96" y="1237">Iseq_3</text></g>
<g id="J-Iseq_4"><rect class="k1" x="55" y="1276.5" width="82" height="21"/><text class="t b12" x="96" y="1287">Iseq_4</text></g>
<g id="J-Iseq_5"><rect class="k1" x="56" y="1308.5" width="81" height="21"/><text class="t b12" x="96.5" y="1319">Iseq_5</text></g>
<g id="J-Iseq_6"><rect class="k1" x="55" y="1345.5" width="82" height="21"/><text class="t b12" x="96" y="1356">Iseq_6</text></g>
<g id="J-Iseq_7"><rect class="k1" x="56" y="1376.5" width="81" height="21"/><text class="t b12" x="96.5" y="1387">Iseq_7</text></g>
<g id="J-Iseq_9"><rect class="k1" x="58" y="1442.5" width="82" height="21"/><text class="t b12" x="99" y="1453">Iseq_9</text></g>
<g id="J-Iseq_10"><rect class="k1" x="57" y="1476.5" width="82" height="21"/><text class="t b12" x="98" y="1487">Iseq_10</text></g>
<g id="J-F1"><ellipse class="k1" cx="199" cy="1210" rx="28" ry="11"/><text class="t b12" x="199" y="1210">F1</text></g>
<g id="J-F2"><ellipse class="k1" cx="201" cy="1298" rx="28" ry="11"/><text class="t b12" x="201" y="1298">F2</text></g>
<g id="J-F3"><ellipse class="k1" cx="198" cy="1363" rx="28" ry="11"/><text class="t b12" x="198" y="1363">F3</text></g>
<g id="J-F4"><ellipse class="k1" cx="212" cy="1447" rx="28" ry="11"/><text class="t b12" x="212" y="1447">F4</text></g>
</g>
<!-- Panel E -->
<g id="E-nodes">
<g id="E-e6"><ellipse class="k2" cx="366" cy="417" rx="11" ry="9.5"/><text class="t b11" x="366" y="417">e6</text></g>
<g id="E-e5"><ellipse class="k2" cx="366" cy="452" rx="11" ry="9.5"/><text class="t b11" x="366" y="452">e5</text></g>
<g id="E-e4"><ellipse class="k2" cx="366" cy="487" rx="11" ry="9.5"/><text class="t b11" x="366" y="487">e4</text></g>
<g id="E-e3"><ellipse class="k2" cx="366" cy="522" rx="11" ry="9.5"/><text class="t b11" x="366" y="522">e3</text></g>
<g id="E-e2"><ellipse class="k2" cx="366" cy="557" rx="11" ry="9.5"/><text class="t b11" x="366" y="557">e2</text></g>
<g id="E-e1"><ellipse class="k2" cx="366" cy="592" rx="11" ry="9.5"/><text class="t b11" x="366" y="592">e1</text></g>
<g id="E-e10"><ellipse class="k2" cx="370" cy="633" rx="11" ry="9.5"/><text class="t b11" x="370" y="633">e10</text></g>
<g id="E-e9"><ellipse class="k2" cx="370" cy="668" rx="11" ry="9.5"/><text class="t b11" x="370" y="668">e9</text></g>
<g id="E-e8"><ellipse class="k2" cx="370" cy="703" rx="11" ry="9.5"/><text class="t b11" x="370" y="703">e8</text></g>
<g id="E-e7"><ellipse class="k2" cx="370" cy="738" rx="11" ry="9.5"/><text class="t b11" x="370" y="738">e7</text></g>
<g id="E-Iseq_1"><rect class="k2" x="448" y="402" width="90" height="30"/><text class="t n115" x="493" y="417">Iseq_1</text></g>
<g id="E-Iseq_2"><rect class="k2" x="448" y="437" width="90" height="30"/><text class="t n115" x="493" y="452">Iseq_2</text></g>
<g id="E-Iseq_3"><rect class="k2" x="448" y="472" width="90" height="30"/><text class="t n115" x="493" y="487">Iseq_3</text></g>
<g id="E-Iseq_4"><rect class="k2" x="448" y="507" width="90" height="30"/><text class="t n115" x="493" y="522">Iseq_4</text></g>
<g id="E-Iseq_5"><rect class="k2" x="448" y="542" width="90" height="30"/><text class="t n115" x="493" y="557">Iseq_5</text></g>
<g id="E-Iseq_10"><rect class="k2" x="448" y="577" width="90" height="30"/><text class="t n115" x="493" y="592">Iseq_10</text></g>
<g id="E-Iseq_6"><rect class="k2" x="451" y="618" width="90" height="30"/><text class="t n115" x="496" y="633">Iseq_6</text></g>
<g id="E-Iseq_7"><rect class="k2" x="451" y="653" width="90" height="30"/><text class="t n115" x="496" y="668">Iseq_7</text></g>
<g id="E-Iseq_8"><rect class="k2" x="451" y="688" width="90" height="30"/><text class="t n115" x="496" y="703">Iseq_8</text></g>
<g id="E-Iseq_9"><rect class="k2" x="451" y="723" width="90" height="30"/><text class="t n115" x="496" y="738">Iseq_9</text></g>
<g id="E-e11"><ellipse class="k2" cx="650" cy="423" rx="11" ry="12" style="stroke-width:2"/><text class="t n8" x="650" y="423">e11</text></g>
<g id="E-e12"><ellipse class="k2" cx="654" cy="604" rx="11" ry="12" style="stroke-width:2"/><text class="t n8" x="654" y="604">e12</text></g>
<g id="E-F1"><ellipse class="k2" cx="651" cy="505" rx="63" ry="27"/><text class="t b13" x="651" y="505">F1</text></g>
<g id="E-F2"><ellipse class="k2" cx="654" cy="686" rx="62" ry="26"/><text class="t b13" x="654" y="686">F2</text></g>
<g id="E-SO"><ellipse class="k2" cx="854" cy="565" rx="58" ry="53" style="stroke-width:2"/><text class="t so1" x="854" y="565">Second_order_factor</text></g>
</g>
<!-- Panel K -->
<g id="K-nodes">
<g id="K-e6"><ellipse class="k2" cx="326" cy="1173" rx="11" ry="10"/><text class="t b11" x="326" y="1173">e6</text></g>
<g id="K-e5"><ellipse class="k2" cx="326" cy="1211" rx="11" ry="10"/><text class="t b11" x="326" y="1211">e5</text></g>
<g id="K-e4"><ellipse class="k2" cx="326" cy="1249" rx="11" ry="10"/><text class="t b11" x="326" y="1249">e4</text></g>
<g id="K-e3"><ellipse class="k2" cx="326" cy="1286" rx="11" ry="10"/><text class="t b11" x="326" y="1286">e3</text></g>
<g id="K-e2"><ellipse class="k2" cx="326" cy="1324" rx="11" ry="10"/><text class="t b11" x="326" y="1324">e2</text></g>
<g id="K-e1"><ellipse class="k2" cx="326" cy="1362" rx="11" ry="10"/><text class="t b11" x="326" y="1362">e1</text></g>
<g id="K-e10"><ellipse class="k2" cx="329" cy="1407" rx="11" ry="10"/><text class="t b11" x="329" y="1407">e10</text></g>
<g id="K-e9"><ellipse class="k2" cx="329" cy="1444" rx="11" ry="10"/><text class="t b11" x="329" y="1444">e9</text></g>
<g id="K-e7"><ellipse class="k2" cx="329" cy="1500" rx="11" ry="10"/><text class="t b11" x="329" y="1500">e7</text></g>
<g id="K-Iseq_1"><rect class="k2" x="403" y="1157.5" width="83" height="31"/><text class="t n115" x="444.5" y="1173">Iseq_1</text></g>
<g id="K-Iseq_2"><rect class="k2" x="403" y="1195.5" width="83" height="31"/><text class="t n115" x="444.5" y="1211">Iseq_2</text></g>
<g id="K-Iseq_3"><rect class="k2" x="403" y="1233.5" width="83" height="31"/><text class="t n115" x="444.5" y="1249">Iseq_3</text></g>
<g id="K-Iseq_4"><rect class="k2" x="403" y="1270.5" width="83" height="31"/><text class="t n115" x="444.5" y="1286">Iseq_4</text></g>
<g id="K-Iseq_5"><rect class="k2" x="403" y="1308.5" width="83" height="31"/><text class="t n115" x="444.5" y="1324">Iseq_5</text></g>
<g id="K-Iseq_10"><rect class="k2" x="403" y="1346.5" width="83" height="31"/><text class="t n115" x="444.5" y="1362">Iseq_10</text></g>
<g id="K-Iseq_6"><rect class="k2" x="405" y="1391.5" width="84" height="31"/><text class="t n115" x="447" y="1407">Iseq_6</text></g>
<g id="K-Iseq_7"><rect class="k2" x="405" y="1428.5" width="84" height="31"/><text class="t n115" x="447" y="1444">Iseq_7</text></g>
<g id="K-Iseq_9"><rect class="k2" x="405" y="1484.5" width="84" height="31"/><text class="t n115" x="447" y="1500">Iseq_9</text></g>
<g id="K-e11"><ellipse class="k2" cx="594" cy="1178" rx="11" ry="12" style="stroke-width:2"/><text class="t n8" x="594" y="1178">e11</text></g>
<g id="K-e12"><ellipse class="k2" cx="596" cy="1375" rx="11" ry="12" style="stroke-width:2"/><text class="t n8" x="596" y="1375">e12</text></g>
<g id="K-F1"><ellipse class="k2" cx="594" cy="1266" rx="60" ry="28"/><text class="t b13" x="594" y="1266">F1</text></g>
<g id="K-F2"><ellipse class="k2" cx="596" cy="1462" rx="59" ry="28"/><text class="t b13" x="596" y="1462">F2</text></g>
<g id="K-SO"><ellipse class="k2" cx="787" cy="1333" rx="59" ry="56" style="stroke-width:2"/><text class="t so2" x="787" y="1333">Second_order_factor</text></g>
</g>
<!-- Panel F -->
<g id="F-nodes">
<g id="F-e3"><ellipse class="k1" cx="933" cy="422" rx="12" ry="9"/><text class="t b125" x="933" y="422">e3</text></g>
<g id="F-e2"><ellipse class="k1" cx="933" cy="452" rx="12" ry="9"/><text class="t b125" x="933" y="452">e2</text></g>
<g id="F-e1"><ellipse class="k1" cx="932" cy="483" rx="12" ry="9"/><text class="t b125" x="932" y="483">e1</text></g>
<g id="F-e5"><ellipse class="k1" cx="932" cy="532" rx="12" ry="9"/><text class="t b125" x="932" y="532">e5</text></g>
<g id="F-e4"><ellipse class="k1" cx="932" cy="563" rx="12" ry="9"/><text class="t b125" x="932" y="563">e4</text></g>
<g id="F-e7"><ellipse class="k1" cx="932" cy="597" rx="12" ry="9"/><text class="t b125" x="932" y="597">e7</text></g>
<g id="F-e6"><ellipse class="k1" cx="932" cy="624" rx="12" ry="9"/><text class="t b125" x="932" y="624">e6</text></g>
<g id="F-e10"><ellipse class="k1" cx="935" cy="658" rx="12" ry="9"/><text class="t b125" x="935" y="658">e10</text></g>
<g id="F-e9"><ellipse class="k1" cx="934" cy="687" rx="12" ry="9"/><text class="t b125" x="934" y="687">e9</text></g>
<g id="F-e8"><ellipse class="k1" cx="934" cy="713" rx="12" ry="9"/><text class="t b125" x="934" y="713">e8</text></g>
<g id="F-Iseq_1"><rect class="k1" x="970" y="412" width="81" height="20"/><text class="t b12" x="1010.5" y="422">Iseq_1</text></g>
<g id="F-Iseq_2"><rect class="k1" x="970" y="442" width="81" height="20"/><text class="t b12" x="1010.5" y="452">Iseq_2</text></g>
<g id="F-Iseq_3"><rect class="k1" x="968" y="473" width="82" height="20"/><text class="t b12" x="1009" y="483">Iseq_3</text></g>
<g id="F-Iseq_4"><rect class="k1" x="967" y="522" width="83" height="20"/><text class="t b12" x="1008.5" y="532">Iseq_4</text></g>
<g id="F-Iseq_5"><rect class="k1" x="968" y="553" width="83" height="20"/><text class="t b12" x="1009.5" y="563">Iseq_5</text></g>
<g id="F-Iseq_6"><rect class="k1" x="968" y="587" width="82" height="20"/><text class="t b12" x="1009" y="597">Iseq_6</text></g>
<g id="F-Iseq_7"><rect class="k1" x="968" y="614" width="83" height="20"/><text class="t b12" x="1009.5" y="624">Iseq_7</text></g>
<g id="F-Iseq_8"><rect class="k1" x="973" y="648" width="81" height="20"/><text class="t b12" x="1013.5" y="658">Iseq_8</text></g>
<g id="F-Iseq_9"><rect class="k1" x="972" y="677" width="82" height="20"/><text class="t b12" x="1013" y="687">Iseq_9</text></g>
<g id="F-Iseq_10"><rect class="k1" x="972" y="703" width="81" height="20"/><text class="t b12" x="1012.5" y="713">Iseq_10</text></g>
<g id="F-e11"><ellipse class="k1" cx="1114" cy="422" rx="11" ry="10"/><text class="t b12" x="1114" y="422">e11</text></g>
<g id="F-e12"><ellipse class="k1" cx="1184" cy="487" rx="11" ry="10"/><text class="t b12" x="1184" y="487">e12</text></g>
<g id="F-e13"><ellipse class="k1" cx="1112" cy="643" rx="11" ry="10"/><text class="t b12" x="1112" y="643">e13</text></g>
<g id="F-e14"><ellipse class="k1" cx="1128" cy="730" rx="11" ry="10"/><text class="t b12" x="1128" y="730">e14</text></g>
<g id="F-F1"><ellipse class="k1" cx="1115" cy="458" rx="28" ry="12"/><text class="t b12" x="1115" y="458">F1</text></g>
<g id="F-F2"><ellipse class="k1" cx="1115" cy="542" rx="28" ry="12"/><text class="t b12" x="1115" y="542">F2</text></g>
<g id="F-F3"><ellipse class="k1" cx="1112" cy="605" rx="27" ry="12"/><text class="t b12" x="1112" y="605">F3</text></g>
<g id="F-F4"><ellipse class="k1" cx="1127" cy="685" rx="28" ry="12"/><text class="t b12" x="1127" y="685">F4</text></g>
<g id="F-SO"><ellipse class="k1" cx="1223" cy="580" rx="58" ry="32"/><text class="t so3" x="1223" y="580">Second_order_Factor</text></g>
</g>
<!-- Panel L -->
<g id="L-nodes">
<g id="L-e3"><ellipse class="k1" cx="871" cy="1173" rx="12.5" ry="10"/><text class="t b135" x="871" y="1173">e3</text></g>
<g id="L-e2"><ellipse class="k1" cx="872" cy="1207" rx="12.5" ry="10"/><text class="t b135" x="872" y="1207">e2</text></g>
<g id="L-e1"><ellipse class="k1" cx="871" cy="1243" rx="12.5" ry="10"/><text class="t b135" x="871" y="1243">e1</text></g>
<g id="L-e5"><ellipse class="k1" cx="872" cy="1301" rx="12.5" ry="10"/><text class="t b135" x="872" y="1301">e5</text></g>
<g id="L-e4"><ellipse class="k1" cx="872" cy="1336" rx="12.5" ry="10"/><text class="t b135" x="872" y="1336">e4</text></g>
<g id="L-e7"><ellipse class="k1" cx="872" cy="1377" rx="12.5" ry="10"/><text class="t b135" x="872" y="1377">e7</text></g>
<g id="L-e6"><ellipse class="k1" cx="873" cy="1408" rx="12.5" ry="10"/><text class="t b135" x="873" y="1408">e6</text></g>
<g id="L-e9"><ellipse class="k1" cx="875" cy="1482" rx="12.5" ry="10"/><text class="t b135" x="875" y="1482">e9</text></g>
<g id="L-e8"><ellipse class="k1" cx="875" cy="1512" rx="12.5" ry="10"/><text class="t b135" x="875" y="1512">e8</text></g>
<g id="L-Iseq_1"><rect class="k1" x="914" y="1161.5" width="97" height="23"/><text class="t b135" x="962.5" y="1173">Iseq_1</text></g>
<g id="L-Iseq_2"><rect class="k1" x="914" y="1195.5" width="97" height="23"/><text class="t b135" x="962.5" y="1207">Iseq_2</text></g>
<g id="L-Iseq_3"><rect class="k1" x="913" y="1231.5" width="96" height="23"/><text class="t b135" x="961" y="1243">Iseq_3</text></g>
<g id="L-Iseq_4"><rect class="k1" x="912" y="1289.5" width="96" height="23"/><text class="t b135" x="960" y="1301">Iseq_4</text></g>
<g id="L-Iseq_5"><rect class="k1" x="913" y="1324.5" width="97" height="23"/><text class="t b135" x="961.5" y="1336">Iseq_5</text></g>
<g id="L-Iseq_6"><rect class="k1" x="913" y="1365.5" width="95" height="23"/><text class="t b135" x="960.5" y="1377">Iseq_6</text></g>
<g id="L-Iseq_7"><rect class="k1" x="914" y="1396.5" width="96" height="23"/><text class="t b135" x="962" y="1408">Iseq_7</text></g>
<g id="L-Iseq_9"><rect class="k1" x="917" y="1470.5" width="96" height="23"/><text class="t b135" x="965" y="1482">Iseq_9</text></g>
<g id="L-Iseq_10"><rect class="k1" x="916" y="1500.5" width="96" height="23"/><text class="t b135" x="964" y="1512">Iseq_10</text></g>
<g id="L-e11"><ellipse class="k1" cx="1085" cy="1173" rx="12.5" ry="12"/><text class="t b135" x="1085" y="1173">e11</text></g>
<g id="L-e12"><ellipse class="k1" cx="1168" cy="1249" rx="12.5" ry="12"/><text class="t b135" x="1168" y="1249">e12</text></g>
<g id="L-e13"><ellipse class="k1" cx="1083" cy="1430" rx="12.5" ry="12"/><text class="t b135" x="1083" y="1430">e13</text></g>
<g id="L-e14"><ellipse class="k1" cx="1101" cy="1533" rx="12.5" ry="12"/><text class="t b135" x="1101" y="1533">e14</text></g>
<g id="L-F1"><ellipse class="k1" cx="1085" cy="1216" rx="32" ry="13"/><text class="t b135" x="1085" y="1216">F1</text></g>
<g id="L-F2"><ellipse class="k1" cx="1085" cy="1313" rx="32" ry="13"/><text class="t b135" x="1085" y="1313">F2</text></g>
<g id="L-F3"><ellipse class="k1" cx="1083" cy="1386" rx="32" ry="13"/><text class="t b135" x="1083" y="1386">F3</text></g>
<g id="L-F4"><ellipse class="k1" cx="1098" cy="1478" rx="32" ry="13"/><text class="t b135" x="1098" y="1478">F4</text></g>
<g id="L-SO"><ellipse class="k1" cx="1211" cy="1357" rx="68" ry="37"/><text class="t so4" x="1211" y="1357">Second_order_Factor</text></g>
</g>
</g>

<g id="labels">
<g id="A-labels" class="t g135">
<text x="323" y="88">.75</text><text x="259" y="97">.38</text><text x="333" y="160">.31</text><text x="263" y="164">.77</text><text x="283" y="197">.66</text><text x="278" y="229">.38</text><text x="279" y="260">.67</text><text x="278" y="292">.19</text><text x="273" y="325">.55</text><text x="302" y="332">.62</text>
</g>
<g id="G-labels" class="t g135">
<text x="316" y="853">.76</text><text x="253" y="862">.38</text><text x="326" y="923">.31</text><text x="257" y="928">.77</text><text x="277" y="960">.67</text><text x="272" y="992">.36</text><text x="273" y="1023">.65</text><text x="263" y="1066">.54</text><text x="291" y="1086">.61</text>
</g>
<g id="B-labels" class="t g12">
<text x="652" y="49">.76</text><text x="618" y="63">.35</text><text x="617" y="93">.40</text><text x="611" y="127">.78</text><text x="613" y="155">.69</text><text x="616" y="180">.61</text><text x="649" y="262">.52</text><text x="630" y="287">.96</text><text x="613" y="321">.29</text><text x="631" y="346">.54</text><text x="836" y="219">.63</text>
</g>
<g id="C-labels" class="t g12">
<text x="1067" y="48">.79</text><text x="1034" y="62">.38</text><text x="1033" y="93">.44</text><text x="1025" y="127">.73</text><text x="1027" y="155">.70</text><text x="1030" y="180">.58</text><text x="1064" y="263">.41</text><text x="1048" y="287">1.24</text><text x="1028" y="323">.14</text><text x="1045" y="347">.43</text>
</g>
<g id="I-labels" class="t g12">
<text x="1084" y="791">.79</text><text x="1047" y="803">.38</text><text x="1046" y="835">.44</text><text x="1037" y="869">.73</text><text x="1041" y="898">.70</text><text x="1044" y="922">.58</text><text x="1081" y="1005">.26</text><text x="1063" y="1029">1.99</text><text x="1061" y="1076">.26</text>
</g>
<g id="D-labels" class="t g135">
<text x="178" y="402">.95</text><text x="177" y="442">.34</text><text x="166" y="467">.45</text><text x="177" y="528">.78</text><text x="166" y="554">.70</text><text x="183" y="601">.48</text><text x="167" y="622">1.05</text><text x="182" y="672">.21</text><text x="173" y="699">.65</text><text x="178" y="720">.56</text>
<text x="271" y="508">.79</text><text x="293" y="542">.42</text><text x="264" y="585">.60</text><text x="328" y="577">.76</text><text x="298" y="628">.84</text><text x="271" y="664">.74</text>
</g>
<g id="H-labels" class="t g135">
<text x="644" y="784">.96</text><text x="645" y="814">.34</text><text x="632" y="842">.44</text><text x="643" y="906">.77</text><text x="632" y="933">.70</text><text x="652" y="982">.46</text><text x="633" y="1003">1.09</text><text x="638" y="1085">.62</text><text x="644" y="1107">.54</text>
<text x="743" y="885">.79</text><text x="764" y="921">.40</text><text x="802" y="957">.81</text><text x="734" y="966">.57</text><text x="772" y="1010">.89</text><text x="743" y="1050">.73</text>
</g>
<g id="J-labels" class="t g12">
<text x="159" y="1168">.96</text><text x="159" y="1195">.34</text><text x="147" y="1222">.44</text><text x="157" y="1277">.77</text><text x="147" y="1302">.70</text><text x="163" y="1345">.46</text><text x="149" y="1365">1.09</text><text x="154" y="1439">.62</text><text x="159" y="1459">.54</text>
<text x="242" y="1259">.79</text><text x="261" y="1292">.40</text><text x="293" y="1324">.81</text><text x="237" y="1332">.57</text><text x="267" y="1372">.89</text><text x="241" y="1407">.73</text>
</g>
<g id="E-labels" class="t g115">
<text x="599" y="437">.76</text><text x="573" y="449">.35</text><text x="570" y="478">.40</text><text x="560" y="511">.78</text><text x="565" y="538">.69</text><text x="567" y="560">.61</text><text x="597" y="638">.52</text><text x="578" y="661">.96</text><text x="563" y="691">.29</text><text x="579" y="716">.54</text>
<text class="bv" x="735" y="525">.77</text><text class="bv" x="743" y="623">.82</text>
</g>
<g id="K-labels" class="t g115">
<text x="546" y="1195">.76</text><text x="521" y="1207">.35</text><text x="517" y="1239">.40</text><text x="507" y="1274">.78</text><text x="513" y="1303">.69</text><text x="514" y="1327">.60</text><text x="543" y="1410">.51</text><text x="525" y="1435">.99</text><text x="526" y="1484">.52</text>
<text class="bv" x="673" y="1291">.74</text><text class="bv" x="683" y="1394">.81</text>
</g>
<g id="F-labels" class="t g12">
<text x="1074" y="419">.96</text><text x="1074" y="444">.34</text><text x="1062" y="468">.44</text><text x="1072" y="523">.80</text><text x="1062" y="547">.68</text><text x="1078" y="588">.49</text><text x="1063" y="606">1.03</text><text x="1078" y="652">.19</text><text x="1069" y="676">.60</text><text x="1074" y="694">.62</text>
<text x="1182" y="523">.77</text><text x="1166" y="549">.94</text><text x="1145" y="587">.65</text><text x="1155" y="634">.99</text>
</g>
<g id="L-labels" class="t g135">
<text x="1036" y="1168">.96</text><text x="1036" y="1199">.33</text><text x="1023" y="1226">.44</text><text x="1035" y="1291">.79</text><text x="1023" y="1317">.69</text><text x="1043" y="1365">.48</text><text x="1025" y="1387">1.05</text><text x="1030" y="1468">.58</text><text x="1035" y="1490">.59</text>
<text x="1165" y="1289">.77</text><text x="1144" y="1320">.95</text><text x="1118" y="1363">.63</text><text x="1127" y="1418">1.04</text>
</g>
<g id="panel-letters" class="t L20">
<text x="343" y="60">A</text><text x="701" y="58">B</text><text x="1115" y="63">C</text><text x="262" y="425">D</text><text class="L22" x="709" y="452">E</text><text x="1150" y="447">F</text>
<text x="305" y="822">G</text><text x="715" y="803">H</text><text x="1136" y="804">I</text><text x="229" y="1193">J</text><text class="L22" x="680" y="1227">K</text><text x="1144" y="1193">L</text>
</g>
</g>
</svg>
